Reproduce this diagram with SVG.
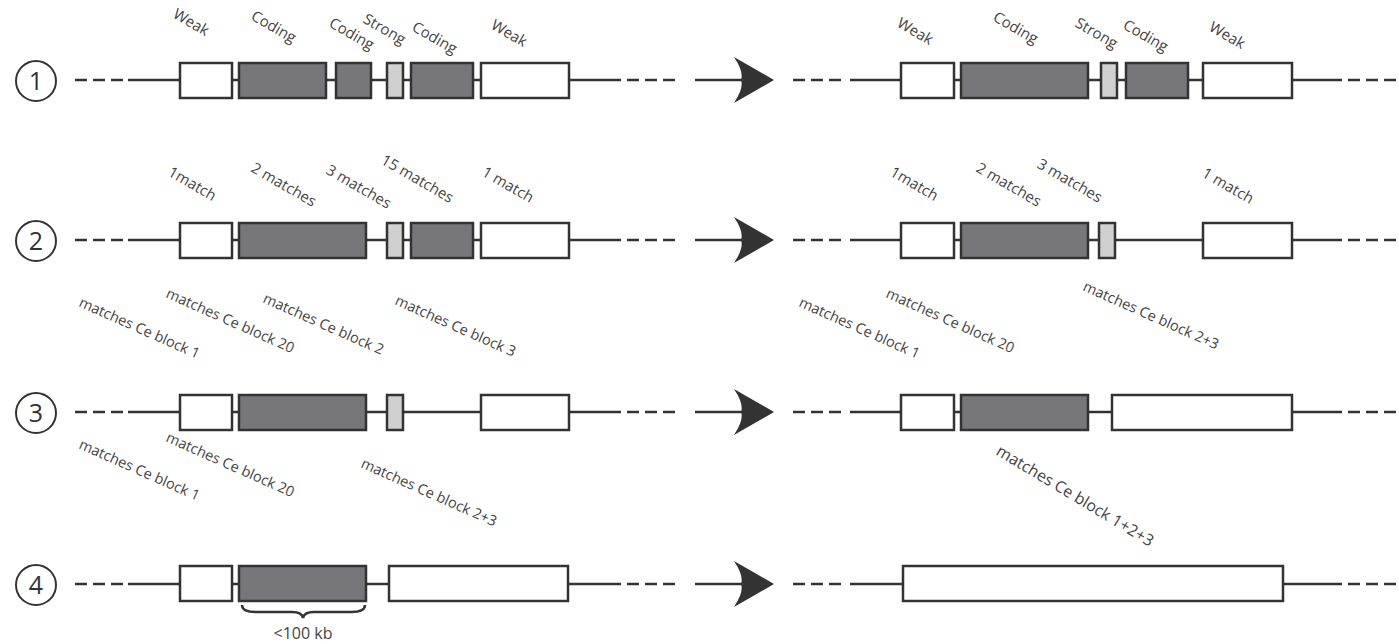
<svg xmlns="http://www.w3.org/2000/svg" width="1399" height="644" viewBox="0 0 1399 644">
<defs>
<style>
.bg{fill:#fff}
.ln{stroke:#333;stroke-width:2.5;fill:none}
.dash{stroke:#333;stroke-width:2.5;fill:none;stroke-dasharray:12 6}
.w{fill:#fff;stroke:#333;stroke-width:2.5}
.d{fill:#77777b;stroke:#333;stroke-width:2.5}
.l{fill:#d0d0d0;stroke:#333;stroke-width:2.5}
.lab{font-family:"Open Sans","Noto Sans",sans-serif;font-size:15px;fill:#444}
.lab2{font-family:"Open Sans","Noto Sans",sans-serif;font-size:14.5px;fill:#444}
.lab3{font-family:"Open Sans","Noto Sans",sans-serif;font-size:16px;fill:#444}
.num{font-family:"Open Sans","Noto Sans",sans-serif;font-size:25px;fill:#333;text-anchor:middle}
.circ{fill:#fff;stroke:#333;stroke-width:2}
.ah{fill:#333}
</style>
<path id="head" d="M0,0 L-40,-23 Q-30,-8 -33,0 Q-30,8 -40,23 Z"/>
</defs>
<rect class="bg" x="0" y="0" width="1399" height="644"/>

<g id="connectors">
<!-- row 1 -->
<line class="dash" x1="75" y1="80" x2="123" y2="80"/>
<line class="ln" x1="128" y1="80" x2="621" y2="80"/>
<line class="dash" x1="627" y1="80" x2="675" y2="80"/>
<line class="ln" x1="695" y1="80" x2="745" y2="80"/>
<use href="#head" class="ah" transform="translate(774,80)"/>
<line class="dash" x1="793" y1="80" x2="841" y2="80"/>
<line class="ln" x1="850" y1="80" x2="1342" y2="80"/>
<line class="dash" x1="1348" y1="80" x2="1396" y2="80"/>
<!-- row 2 -->
<line class="dash" x1="75" y1="240" x2="123" y2="240"/>
<line class="ln" x1="128" y1="240" x2="621" y2="240"/>
<line class="dash" x1="627" y1="240" x2="675" y2="240"/>
<line class="ln" x1="695" y1="240" x2="745" y2="240"/>
<use href="#head" class="ah" transform="translate(774,240)"/>
<line class="dash" x1="793" y1="240" x2="841" y2="240"/>
<line class="ln" x1="850" y1="240" x2="1342" y2="240"/>
<line class="dash" x1="1348" y1="240" x2="1396" y2="240"/>
<!-- row 3 -->
<line class="dash" x1="75" y1="412" x2="123" y2="412"/>
<line class="ln" x1="128" y1="412" x2="621" y2="412"/>
<line class="dash" x1="627" y1="412" x2="675" y2="412"/>
<line class="ln" x1="695" y1="412" x2="745" y2="412"/>
<use href="#head" class="ah" transform="translate(774,412)"/>
<line class="dash" x1="793" y1="412" x2="841" y2="412"/>
<line class="ln" x1="850" y1="412" x2="1342" y2="412"/>
<line class="dash" x1="1348" y1="412" x2="1396" y2="412"/>
<!-- row 4 -->
<line class="dash" x1="75" y1="584" x2="123" y2="584"/>
<line class="ln" x1="128" y1="584" x2="621" y2="584"/>
<line class="dash" x1="627" y1="584" x2="675" y2="584"/>
<line class="ln" x1="695" y1="584" x2="745" y2="584"/>
<use href="#head" class="ah" transform="translate(774,584)"/>
<line class="dash" x1="793" y1="584" x2="841" y2="584"/>
<line class="ln" x1="850" y1="584" x2="1342" y2="584"/>
<line class="dash" x1="1348" y1="584" x2="1396" y2="584"/>
</g>

<g id="row1">
<circle class="circ" cx="36" cy="81" r="20"/><text class="num" x="36" y="90">1</text>
<rect class="w" x="180" y="63" width="52" height="35"/>
<rect class="d" x="239" y="63" width="87" height="35"/>
<rect class="d" x="336" y="63" width="35" height="35"/>
<rect class="l" x="387" y="63" width="16" height="35"/>
<rect class="d" x="411" y="63" width="62" height="35"/>
<rect class="w" x="481" y="63" width="88" height="35"/>
<text class="lab" transform="translate(172,17) rotate(30)">Weak</text>
<text class="lab" transform="translate(250,19) rotate(30)">Coding</text>
<text class="lab" transform="translate(328,26) rotate(30)">Coding</text>
<text class="lab" transform="translate(362,22) rotate(30)">Strong</text>
<text class="lab" transform="translate(411,30) rotate(30)">Coding</text>
<text class="lab" transform="translate(490,28) rotate(30)">Weak</text>
</g>
<g id="row1r">
<rect class="w" x="901" y="63" width="53" height="35"/>
<rect class="d" x="961" y="63" width="127" height="35"/>
<rect class="l" x="1101" y="63" width="16" height="35"/>
<rect class="d" x="1126" y="63" width="62" height="35"/>
<rect class="w" x="1203" y="63" width="89" height="35"/>
<text class="lab" transform="translate(896,26) rotate(30)">Weak</text>
<text class="lab" transform="translate(992,20) rotate(30)">Coding</text>
<text class="lab" transform="translate(1074,26) rotate(30)">Strong</text>
<text class="lab" transform="translate(1122,28) rotate(30)">Coding</text>
<text class="lab" transform="translate(1208,30) rotate(30)">Weak</text>
</g>

<g id="row2">
<circle class="circ" cx="36" cy="241" r="20"/><text class="num" x="36" y="250">2</text>
<rect class="w" x="180" y="223" width="52" height="35"/>
<rect class="d" x="239" y="223" width="127" height="35"/>
<rect class="l" x="387" y="223" width="16" height="35"/>
<rect class="d" x="411" y="223" width="62" height="35"/>
<rect class="w" x="481" y="223" width="88" height="35"/>
<text class="lab" transform="translate(167,175) rotate(30)">1match</text>
<text class="lab" transform="translate(250,171) rotate(30)">2 matches</text>
<text class="lab" transform="translate(325,173) rotate(30)">3 matches</text>
<text class="lab" transform="translate(380,163) rotate(30)">15 matches</text>
<text class="lab" transform="translate(481,175) rotate(30)">1 match</text>
</g>
<g id="row2r">
<rect class="w" x="901" y="223" width="53" height="35"/>
<rect class="d" x="961" y="223" width="127" height="35"/>
<rect class="l" x="1099" y="223" width="16" height="35"/>
<rect class="w" x="1203" y="223" width="89" height="35"/>
<text class="lab" transform="translate(889,175) rotate(30)">1match</text>
<text class="lab" transform="translate(975,171) rotate(30)">2 matches</text>
<text class="lab" transform="translate(1036,167) rotate(30)">3 matches</text>
<text class="lab" transform="translate(1201,176) rotate(30)">1 match</text>
</g>

<g id="row3">
<circle class="circ" cx="36" cy="413" r="20"/><text class="num" x="36" y="422">3</text>
<rect class="w" x="180" y="395" width="52" height="35"/>
<rect class="d" x="239" y="395" width="127" height="35"/>
<rect class="l" x="387" y="395" width="16" height="35"/>
<rect class="w" x="481" y="395" width="88" height="35"/>
<text class="lab2" transform="translate(78,306) rotate(24)">matches Ce block 1</text>
<text class="lab2" transform="translate(165,297) rotate(24)">matches Ce block 20</text>
<text class="lab2" transform="translate(262,302) rotate(24)">matches Ce block 2</text>
<text class="lab2" transform="translate(394,304) rotate(24)">matches Ce block 3</text>
</g>
<g id="row3r">
<rect class="w" x="901" y="395" width="53" height="35"/>
<rect class="d" x="961" y="395" width="127" height="35"/>
<rect class="w" x="1112" y="395" width="180" height="35"/>
<text class="lab2" transform="translate(798,306) rotate(24)">matches Ce block 1</text>
<text class="lab2" transform="translate(885,297) rotate(24)">matches Ce block 20</text>
<text class="lab2" transform="translate(1082,290) rotate(24)">matches Ce block 2+3</text>
</g>

<g id="row4">
<circle class="circ" cx="36" cy="585" r="20"/><text class="num" x="36" y="594">4</text>
<rect class="w" x="180" y="566" width="52" height="35"/>
<rect class="d" x="239" y="566" width="127" height="35"/>
<rect class="w" x="389" y="566" width="179" height="35"/>
<path class="ln" stroke-width="2.2" d="M242,605 Q242,612 256,612 L292,612 Q302,612 303,618 Q304,612 314,612 L351,612 Q365,612 365,605"/>
<text class="lab3" x="303" y="639" text-anchor="middle">&lt;100 kb</text>
<text class="lab2" transform="translate(78,448) rotate(24)">matches Ce block 1</text>
<text class="lab2" transform="translate(165,441) rotate(24)">matches Ce block 20</text>
<text class="lab2" transform="translate(360,467) rotate(24)">matches Ce block 2+3</text>
</g>
<g id="row4r">
<rect class="w" x="903" y="566" width="380" height="35"/>
<text class="lab3" transform="translate(995,454) rotate(31)">matches Ce block 1+2+3</text>
</g>
</svg>
